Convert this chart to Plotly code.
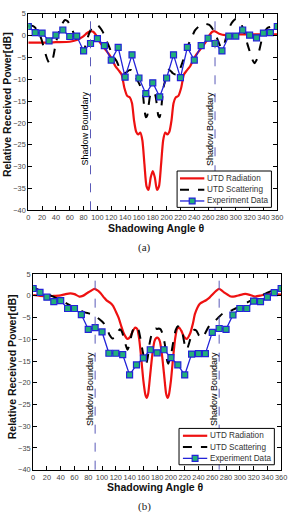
import plotly.graph_objects as go

# ---------------- data ----------------
exp_angles = list(range(0, 361, 10))
exp_a = [2.1, 0.7, 0.6, -1.2, 0.1, 1.3, -0.2, -0.1, -3.5, -1.8, -0.7, -2.3, -5.6, -2.7,
         -9.5, -4.4, -9.7, -13.3, -10.8, -14.0, -9.7, -4.4, -9.6, -2.7, -5.6, -2.3, -0.6,
         -1.8, -3.5, -0.1, -0.1, 1.3, 0.1, -0.5, 0.6, 0.7, 2.1]
exp_b = [1.7, 0.8, -0.3, -1.3, -1.1, -2.9, -2.9, -4.3, -7.7, -7.3, -8.3, -13.2, -13.2, -13.5,
         -18.2, -15.9, -14.3, -12.4, -13.1, -12.4, -14.2, -15.9, -18.2, -13.4, -13.3, -13.3,
         -8.4, -7.5, -7.7, -4.4, -2.9, -2.9, -1.2, -1.3, -0.3, 0.75, 1.7]

rad_a_ang = [0, 20, 40, 60, 70, 75, 80, 85, 90, 94, 98, 103, 108, 112, 119, 126, 131, 135, 139, 143,
             147, 150, 153, 156, 159, 162, 165, 168, 171, 174, 177, 180, 183, 186, 189, 192, 195, 198,
             201, 204, 207, 210, 213, 217, 221, 225, 229, 234, 241, 248, 252, 257, 262, 266, 270, 276,
             285, 300, 320, 340, 360]
rad_a = [-1.6, -1.6, -1.5, -1.4, -1.0, -0.6, -0.1, 0.6, 1.0, 0.9, 0.1, -1.4, -2.5, -3.3, -4.8, -7.0,
         -8.0, -8.9, -12.0, -13.8, -14.2, -15.5, -19.5, -22.0, -22.6, -22.2, -24.0, -29.5, -34.5,
         -35.3, -32.5, -31.0, -32.5, -35.3, -34.5, -29.5, -24.0, -22.2, -22.6, -22.0, -19.5, -15.5,
         -14.2, -13.8, -12.0, -8.9, -8.0, -7.0, -4.8, -3.3, -2.5, -1.4, 0.1, 0.9, 1.0, 0.45, 0.1,
         0.3, 0.3, 0.3, 0.3]

sc_a_ang = [0, 5, 9, 13, 16, 19, 22, 25, 28, 31, 34, 37, 40, 43, 46, 49, 53, 57, 60, 64,
            67, 70, 74, 77, 80, 83, 86, 89, 92, 96, 100, 104, 108, 112, 116, 120, 124, 128, 133, 138,
            142, 146, 149, 152, 155, 158, 161, 164, 166, 168, 170, 172, 174, 176, 178, 180, 182, 184, 186, 188,
            190, 192, 194, 196, 200, 203, 206, 209, 213, 216, 220, 224, 227, 231, 234, 238, 241, 245, 248, 253,
            257, 261, 264, 267, 269, 272, 274, 277, 280, 283, 285, 288, 292, 296, 300, 304, 307, 310, 314, 317,
            321, 324, 327, 330, 333, 336, 339, 343, 346, 350, 353, 357, 360]
sc_a = [2.3, 2.3, 2.0, 1.2, 0.4, -0.8, -2.5, -4.2, -5.6, -6.4, -6.1, -4.2, -1.6, 0.2, 1.6, 2.7, 3.6, 3.3, 2.5, 1.2,
        0.0, -1.0, -2.2, -3.0, -3.3, -2.2, -0.4, 0.9, 1.8, 2.4, 2.4, 1.8, 0.8, -0.8, -2.2, -3.8, -5.0, -5.9, -7.8, -8.6,
        -8.4, -7.9, -7.9, -8.6, -9.5, -10.3, -11.2, -12.5, -13.8, -17.0, -18.7, -18.3, -16.0, -13.8, -13.0, -13.2, -13.0, -13.8, -16.0, -18.3,
        -18.7, -17.0, -13.8, -11.5, -9.3, -7.8, -8.1, -8.6, -8.9, -8.8, -7.4, -5.6, -4.0, -2.3, -1.1, 0.2, 1.2, 1.9, 2.3, 2.6,
        2.7, 2.5, 2.1, 1.4, 0.8, -0.2, -1.0, -2.2, -2.9, -2.2, -1.0, 0.8, 2.3, 3.3, 3.8, 3.6, 3.1, 1.8, 0.0, -2.0,
        -4.0, -5.5, -6.3, -5.6, -4.0, -2.0, 0.0, 1.2, 1.8, 2.0, 2.1, 2.1, 2.1]

rad_b_ang = [0, 10, 20, 30, 40, 47, 54, 60, 67, 72, 78, 84, 89, 94, 98, 103, 107, 112, 116, 120,
             124, 128, 132, 137, 141, 145, 148, 151, 154, 157, 160, 163, 165, 167, 170, 173, 176, 178, 180, 182,
             184, 187, 190, 193, 195, 197, 200, 203, 206, 209, 212, 215, 219, 223, 228, 232, 235, 242, 251, 256,
             261, 266, 270, 274, 277, 283, 287, 293, 298, 308, 315, 322, 331, 341, 350, 360]
rad_b = [0.2, 0.0, -0.1, 0.0, 0.1, 0.4, 0.6, 0.4, -0.15, 0.0, 0.6, 1.2, 1.6, 1.2, 0.6, -0.4, -1.1, -1.6, -2.3, -3.6,
         -5.0, -7.0, -8.8, -9.9, -9.4, -8.0, -7.3, -7.6, -10.0, -14.5, -19.5, -22.8, -23.5, -22.5, -18.0, -13.5, -10.5, -9.8, -9.6, -9.8,
         -10.5, -13.5, -18.0, -22.5, -23.5, -22.8, -19.5, -14.5, -10.0, -7.6, -7.3, -8.0, -9.4, -9.9, -8.6, -6.3, -4.1, -1.8, -1.0, -0.4,
         0.45, 1.2, 1.6, 1.2, 0.8, 0.2, -0.15, -0.1, 0.1, 0.45, 0.2, -0.15, 0.1, 0.45, 0.4, 0.3]

sc_b_ang = [0, 10, 20, 25, 35, 42, 49, 55, 62, 68, 75, 82, 88, 93, 98, 102, 107, 111, 115, 119,
            123, 126, 129, 132, 135, 137, 140, 143, 146, 150, 153, 156, 159, 162, 164, 166, 169, 172, 175, 178,
            180, 182, 185, 188, 191, 194, 196, 198, 201, 204, 207, 210, 214, 217, 220, 223, 225, 228, 231, 234,
            237, 241, 245, 249, 254, 259, 265, 270, 275, 280, 284, 291, 298, 305, 312, 320, 327, 334, 341, 350, 360]
sc_b = [2.0, 1.2, 0.5, 0.1, -0.6, -1.1, -1.8, -2.3, -2.8, -3.3, -3.8, -4.1, -4.5, -5.0, -5.6, -6.2, -7.5, -9.0, -9.8, -9.6,
        -8.3, -7.7, -8.3, -10.0, -11.6, -12.4, -11.2, -8.8, -7.4, -7.0, -7.8, -10.0, -12.8, -14.8, -15.6, -14.5, -11.0, -8.8, -7.7, -7.5,
        -7.6, -7.5, -7.7, -8.8, -11.0, -14.5, -15.6, -14.8, -12.8, -10.0, -7.8, -7.0, -7.4, -8.8, -11.2, -12.4, -11.6, -10.0, -8.5, -7.8,
        -8.0, -9.2, -9.7, -8.8, -7.3, -6.3, -5.6, -4.8, -4.1, -3.8, -3.7, -3.1, -2.6, -2.0, -1.4, -0.7, -0.15, 0.3, 0.8, 1.4, 2.0]

boundary_angles = [90, 270]
x_ticks = list(range(0, 361, 20))
y_ticks = list(range(-40, 6, 5))
series_names = ["UTD Radiation", "UTD Scattering", "Experiment Data"]

# ---------------- figure ----------------
W, H = 293, 512
RED = "#ee1111"
BLUE = "#2323d8"
GREEN = "#22b07a"
BND = "#5a5ab8"
FONT = "Arial, Liberation Sans, sans-serif"

fig = go.Figure()

panels = [
    ("x", "y", rad_a_ang, rad_a, sc_a_ang, sc_a, exp_a),
    ("x2", "y2", rad_b_ang, rad_b, sc_b_ang, sc_b, exp_b),
]
for xa, ya, ra, rv, sa, sv, ev in panels:
    fig.add_trace(go.Scatter(x=ra, y=rv, xaxis=xa, yaxis=ya, mode="lines", name=series_names[0],
                             line=dict(color=RED, width=2.2, shape="spline", smoothing=0.6)))
    fig.add_trace(go.Scatter(x=sa, y=sv, xaxis=xa, yaxis=ya, mode="lines", name=series_names[1],
                             line=dict(color="black", width=2, dash="dash", shape="spline", smoothing=0.6)))
    fig.add_trace(go.Scatter(x=exp_angles, y=ev, xaxis=xa, yaxis=ya, mode="lines+markers",
                             name=series_names[2],
                             line=dict(color=BLUE, width=1.3),
                             marker=dict(symbol="square", size=6, color=GREEN,
                                         line=dict(color=BLUE, width=1.2))))


def px_x(p):
    return p / W


def px_y(p):
    return 1 - p / H


axis_common = dict(showline=True, mirror="ticks", linecolor="black", linewidth=1,
                   ticks="inside", ticklen=4, tickcolor="black", showgrid=False, zeroline=False,
                   tickfont=dict(family=FONT, size=7.4, color="#444444"))

fig.update_layout(
    width=W, height=H, margin=dict(l=0, r=0, t=0, b=0),
    paper_bgcolor="white", plot_bgcolor="white", showlegend=False,
    xaxis=dict(domain=[px_x(27), px_x(283)], anchor="y", range=[0, 360], tickvals=x_ticks,
               tickangle=0, **axis_common),
    yaxis=dict(domain=[px_y(210), px_y(10)], anchor="x", range=[-40, 5], tickvals=y_ticks,
               **axis_common),
    xaxis2=dict(domain=[px_x(32), px_x(287)], anchor="y2", range=[0, 360], tickvals=x_ticks,
                tickangle=0, **axis_common),
    yaxis2=dict(domain=[px_y(474), px_y(275)], anchor="x2", range=[-40, 5], tickvals=y_ticks,
                **axis_common),
)

# shadow boundary lines + labels
for xa, ya in [("x", "y"), ("x2", "y2")]:
    for b in boundary_angles:
        fig.add_shape(type="line", xref=xa, yref=ya + " domain", x0=b, x1=b, y0=0, y1=1,
                      line=dict(color=BND, width=1, dash="dash"))
        fig.add_annotation(xref=xa, yref=ya, x=b, y=-21.4, text="Shadow Boundary", showarrow=False,
                           textangle=-90, xanchor="center", yanchor="middle", xshift=-5,
                           font=dict(family=FONT, size=9, color="black"))

# legends (drawn as boxes with sample glyphs)
legend_boxes = [  # (left, top, right, bottom, sample_x0, sample_x1, text_x, row_ys)
    (180, 170, 277, 207, 183, 208, 209, [177.5, 189, 200.5]),
    (182, 432, 280, 469, 186, 211, 212, [439.5, 451, 462.5]),
]
for l, t, r, btm, s0, s1, tx, rows in legend_boxes:
    fig.add_shape(type="rect", xref="paper", yref="paper", x0=px_x(l), x1=px_x(r),
                  y0=px_y(btm), y1=px_y(t), line=dict(color="black", width=1), fillcolor="white",
                  layer="above")
    styles = [dict(color=RED, width=2.2), dict(color="black", width=2, dash="dash"),
              dict(color=BLUE, width=1.3)]
    for i, (ry, st) in enumerate(zip(rows, styles)):
        fig.add_shape(type="line", xref="paper", yref="paper", x0=px_x(s0), x1=px_x(s1),
                      y0=px_y(ry), y1=px_y(ry), line=st, layer="above")
        fig.add_annotation(xref="paper", yref="paper", x=px_x(tx), y=px_y(ry), text=series_names[i],
                           showarrow=False, xanchor="left", yanchor="middle",
                           font=dict(family=FONT, size=8.2, color="#333"))
    mx = (s0 + s1) / 2
    ry = rows[2]
    fig.add_shape(type="rect", xref="paper", yref="paper", x0=px_x(mx - 3), x1=px_x(mx + 3),
                  y0=px_y(ry + 3), y1=px_y(ry - 3), fillcolor=GREEN, line=dict(color=BLUE, width=1.2),
                  layer="above")

title_font = dict(family=FONT, size=10.5, color="#111")
# axis titles
fig.add_annotation(xref="paper", yref="paper", x=px_x(159), y=px_y(228), text="<b>Shadowing Angle θ</b>",
                   showarrow=False, xanchor="center", yanchor="middle", font=title_font)
fig.add_annotation(xref="paper", yref="paper", x=px_x(158), y=px_y(492), text="<b>Shadowing Angle θ</b>",
                   showarrow=False, xanchor="center", yanchor="middle", font=title_font)
fig.add_annotation(xref="paper", yref="paper", x=px_x(5), y=px_y(102),
                   text="<b>Relative Received Power[dB]</b>", textangle=-90, showarrow=False,
                   xanchor="center", yanchor="middle", font=title_font)
fig.add_annotation(xref="paper", yref="paper", x=px_x(10), y=px_y(369),
                   text="<b>Relative Received Power[dB]</b>", textangle=-90, showarrow=False,
                   xanchor="center", yanchor="middle", font=title_font)
# panel captions
fig.add_annotation(xref="paper", yref="paper", x=px_x(146), y=px_y(248), text="(a)", showarrow=False,
                   xanchor="center", yanchor="middle",
                   font=dict(family="Liberation Serif, Times New Roman, serif", size=11, color="#222"))
fig.add_annotation(xref="paper", yref="paper", x=px_x(146), y=px_y(503), text="(b)", showarrow=False,
                   xanchor="center", yanchor="top",
                   font=dict(family="Liberation Serif, Times New Roman, serif", size=11, color="#222"))

fig.write_html("out.html")
